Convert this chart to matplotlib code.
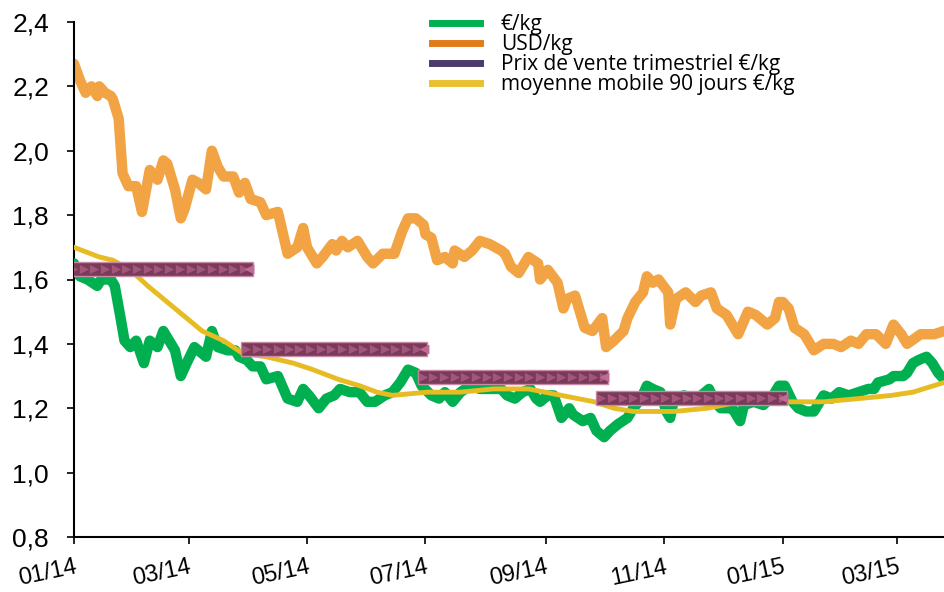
import matplotlib
matplotlib.use("Agg")
import matplotlib.pyplot as plt
from matplotlib.lines import Line2D
import numpy as np

# days since 01/01/2014
usd_days = [0, 3, 6, 9, 12, 13, 16, 19, 20, 23, 25, 28, 32, 35, 39, 43, 46, 48, 52, 55,
            57, 61, 64, 68, 71, 74, 77, 82, 85, 88, 91, 96, 99, 105, 110, 115, 118, 120,
            125, 128, 133, 135, 138, 141, 146, 151, 154, 159, 165, 169, 172, 176, 180,
            181, 184, 187, 191, 195, 196, 201, 205, 209, 214, 220, 222, 225, 229, 234,
            239, 240, 244, 249, 252, 254, 258, 263, 267, 272, 274, 278, 283, 285, 289,
            293, 295, 298, 301, 306, 307, 310, 315, 320, 323, 328, 331, 336, 342, 347,
            351, 357, 361, 363, 365, 368, 371, 376, 381, 386, 391, 395, 400, 404, 408,
            413, 418, 422, 426, 429, 436, 443, 448]
usd_kg = [2.27, 2.22, 2.18, 2.20, 2.17, 2.20, 2.18, 2.17, 2.16, 2.10, 1.93, 1.89, 1.89,
          1.81, 1.94, 1.91, 1.97, 1.96, 1.88, 1.79, 1.82, 1.91, 1.90, 1.88, 2.00, 1.95,
          1.92, 1.92, 1.87, 1.90, 1.85, 1.84, 1.80, 1.81, 1.68, 1.70, 1.76, 1.70, 1.65,
          1.67, 1.71, 1.69, 1.72, 1.70, 1.72, 1.67, 1.65, 1.68, 1.68, 1.75, 1.79, 1.79,
          1.77, 1.74, 1.73, 1.66, 1.67, 1.65, 1.69, 1.67, 1.69, 1.72, 1.71, 1.69, 1.68,
          1.64, 1.62, 1.67, 1.65, 1.60, 1.63, 1.59, 1.51, 1.54, 1.55, 1.45, 1.44, 1.48,
          1.39, 1.41, 1.44, 1.48, 1.53, 1.56, 1.61, 1.59, 1.60, 1.56, 1.46, 1.54, 1.56,
          1.53, 1.55, 1.56, 1.51, 1.49, 1.43, 1.50, 1.49, 1.46, 1.48, 1.53, 1.53, 1.51,
          1.45, 1.43, 1.38, 1.40, 1.40, 1.39, 1.41, 1.40, 1.43, 1.43, 1.40, 1.46, 1.43,
          1.40, 1.43, 1.43, 1.44]

eur_days = [0, 3, 7, 12, 14, 19, 21, 24, 26, 29, 32, 36, 39, 43, 46, 48, 52, 55, 58, 62,
            64, 68, 71, 74, 79, 83, 85, 89, 92, 96, 99, 105, 110, 115, 118, 121, 126,
            130, 134, 137, 142, 147, 151, 155, 160, 164, 168, 172, 176, 179, 184, 188,
            191, 195, 199, 204, 209, 214, 220, 223, 227, 231, 235, 238, 240, 244, 247,
            251, 255, 257, 262, 266, 269, 273, 276, 280, 285, 288, 292, 295, 298, 302,
            305, 307, 309, 314, 319, 323, 327, 330, 333, 336, 339, 343, 345, 350, 355,
            360, 363, 366, 370, 373, 377, 381, 386, 390, 394, 399, 404, 409, 412, 414,
            420, 422, 427, 429, 432, 435, 439, 442, 445, 448]
eur_kg = [1.65, 1.61, 1.60, 1.58, 1.60, 1.60, 1.58, 1.48, 1.41, 1.39, 1.41, 1.34, 1.41,
          1.39, 1.44, 1.42, 1.38, 1.30, 1.34, 1.39, 1.38, 1.36, 1.44, 1.39, 1.38, 1.38,
          1.36, 1.35, 1.33, 1.33, 1.29, 1.30, 1.23, 1.22, 1.26, 1.24, 1.20, 1.23, 1.24,
          1.26, 1.25, 1.25, 1.22, 1.22, 1.24, 1.25, 1.28, 1.32, 1.31, 1.27, 1.24, 1.23,
          1.25, 1.22, 1.25, 1.27, 1.26, 1.26, 1.26, 1.24, 1.23, 1.25, 1.26, 1.23, 1.22,
          1.24, 1.24, 1.17, 1.20, 1.18, 1.16, 1.17, 1.13, 1.11, 1.13, 1.15, 1.17, 1.20,
          1.23, 1.27, 1.26, 1.25, 1.19, 1.17, 1.23, 1.24, 1.23, 1.24, 1.26, 1.22, 1.20,
          1.20, 1.20, 1.16, 1.21, 1.22, 1.21, 1.24, 1.27, 1.27, 1.22, 1.20, 1.19, 1.19,
          1.24, 1.23, 1.25, 1.24, 1.25, 1.26, 1.26, 1.28, 1.29, 1.30, 1.30, 1.31, 1.34,
          1.35, 1.36, 1.34, 1.31, 1.29]

ma_days = [0, 13, 20, 29, 38, 48, 56, 66, 77, 87, 99, 113, 123, 136, 147, 156, 164, 182,
           199, 216, 234, 251, 268, 278, 288, 302, 309, 326, 343, 368, 386, 404, 421,
           432, 448]
ma_90j = [1.70, 1.67, 1.66, 1.63, 1.58, 1.53, 1.49, 1.44, 1.41, 1.37, 1.36, 1.34, 1.32,
          1.29, 1.27, 1.25, 1.24, 1.25, 1.25, 1.26, 1.26, 1.24, 1.22, 1.20, 1.19, 1.19,
          1.19, 1.20, 1.22, 1.22, 1.22, 1.23, 1.24, 1.25, 1.28]

# quarterly sale price bars
prix_debut = [-3, 86, 177, 269]
prix_fin = [92, 182, 275, 367]
prix_trim = [1.633, 1.384, 1.297, 1.232]

tick_days = [0, 59, 120, 181, 243, 304, 365, 424]
tick_labels = ["01/14", "03/14", "05/14", "07/14", "09/14", "11/14", "01/15", "03/15"]

c_usd = "#f2a344"
c_eur = "#00b050"
c_ma = "#e6bc22"
c_prix = "#7a3a5a"

fig = plt.figure(figsize=(9.44, 5.92), dpi=100)
ax = fig.add_axes([74 / 944, 1 - 537 / 592, 1 - 74 / 944, (537 - 22) / 592])

ax.plot(usd_days, usd_kg, color=c_usd, lw=7.5, solid_joinstyle="round",
        solid_capstyle="round", zorder=2)
ax.plot(eur_days, eur_kg, color=c_eur, lw=7.5, solid_joinstyle="round",
        solid_capstyle="round", zorder=3)
ax.plot(ma_days, ma_90j, color=c_ma, lw=3.5, zorder=4)

for d0, d1, v in zip(prix_debut, prix_fin, prix_trim):
    ax.barh(v, d1 - d0, left=d0, height=0.042, color=c_prix,
            edgecolor="#c98aa8", linewidth=1, zorder=5)
    xs = np.arange(d0 + 2.5, d1 - 1, 5.5)
    ax.scatter(xs, [v] * len(xs), marker=">", s=45, color="#a4557a",
               linewidths=0, zorder=6)
    ax.scatter([d1 - 2], [v], marker="<", s=50, color="#c06b92",
               linewidths=0, zorder=6)

ax.set_xlim(0, 448)
ax.set_ylim(0.8, 2.4)
ax.set_yticks(np.arange(0.8, 2.41, 0.2))
ax.set_yticklabels([f"{t:.1f}".replace(".", ",") for t in np.arange(0.8, 2.41, 0.2)],
                   fontsize=19, family="Liberation Sans")
ax.set_xticks(tick_days)
ax.set_xticklabels(tick_labels, rotation=12, ha="right", rotation_mode="anchor",
                   fontsize=17, family="Liberation Sans")
ax.tick_params(axis="both", direction="out", length=5, width=1.2, colors="black")
ax.tick_params(axis="y", pad=13)
ax.tick_params(axis="x", pad=9)
ax.spines["top"].set_visible(False)
ax.spines["right"].set_visible(False)
ax.spines["left"].set_linewidth(1.5)
ax.spines["bottom"].set_linewidth(1.5)
ax.patch.set_visible(False)

handles = [
    Line2D([], [], color="#00b050", lw=5),
    Line2D([], [], color="#e07d1a", lw=5),
    Line2D([], [], color="#4b3a6b", lw=5),
    Line2D([], [], color="#e8c030", lw=5),
]
labels = ["€/kg", "USD/kg", "Prix de vente trimestriel €/kg", "moyenne mobile 90 jours €/kg"]
fig.legend(handles, labels, loc="upper left", bbox_to_anchor=(432 / 944, 1 - 14 / 592),
           frameon=False, borderpad=0, borderaxespad=0, labelspacing=-0.05,
           handlelength=2.3, handletextpad=1.0,
           prop={"family": "Open Sans", "size": 15})

fig.savefig("out.png", dpi=100)
